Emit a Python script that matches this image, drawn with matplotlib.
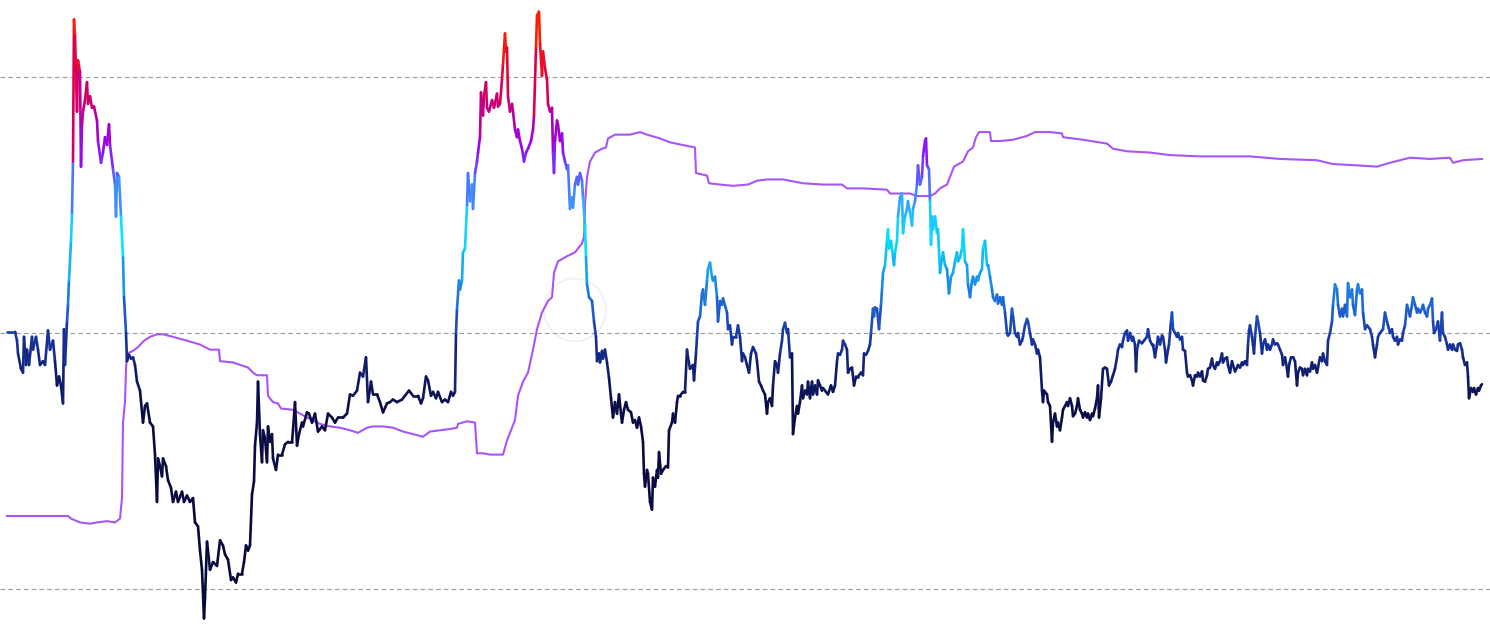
import matplotlib
matplotlib.use("Agg")
import matplotlib.pyplot as plt
import numpy as np
from matplotlib.collections import LineCollection
from matplotlib.colors import LinearSegmentedColormap, Normalize
from matplotlib.patches import Ellipse

# main oscillator: day index and score
score_days = [
    0, 8, 10, 11, 14, 16, 17, 19, 20, 22, 25, 26, 29, 31, 33, 36, 38, 41, 43, 46, 48, 50, 52, 54, 56, 57, 58, 60,
    61, 62, 64, 65, 66, 67, 68, 70, 71, 73, 74, 75, 76, 78, 80, 81, 83, 85, 87, 90, 91, 94, 96, 98, 100, 102, 103,
    106, 108, 109, 110, 112, 114, 116, 117, 119, 120, 122, 124, 126, 128, 130, 133, 136, 138, 140, 143, 146, 148,
    150, 151, 153, 155, 156, 159, 161, 164, 166, 169, 171, 175, 177, 180, 183, 186, 188, 191, 193, 195, 197, 198,
    200, 203, 206, 210, 213, 216, 218, 221, 224, 226, 229, 231, 235, 237, 239, 241, 243, 245, 247, 248, 250, 251,
    253, 255, 256, 258, 260, 261, 263, 265, 266, 269, 271, 275, 278, 281, 285, 286, 288, 290, 292, 295, 296, 300,
    302, 305, 308, 311, 315, 318, 321, 325, 328, 331, 336, 340, 343, 346, 350, 353, 356, 359, 361, 364, 366, 370,
    373, 376, 380, 383, 386, 390, 395, 398, 402, 406, 411, 414, 416, 419, 421, 424, 426, 429, 431, 435, 438, 441,
    444, 446, 448, 449, 450, 452, 453, 455, 456, 458, 460, 461, 463, 465, 466, 468, 470, 471, 473, 474, 476, 477,
    479, 480, 482, 485, 487, 490, 491, 493, 495, 496, 498, 499, 500, 501, 503, 505, 506, 508, 510, 511, 513, 515,
    517, 519, 521, 524, 526, 527, 529, 530, 532, 533, 535, 536, 538, 540, 541, 543, 545, 546, 547, 548, 550, 551,
    553, 555, 556, 558, 560, 561, 563, 565, 566, 568, 570, 571, 573, 575, 576, 578, 579, 580, 582, 585, 587, 589,
    590, 592, 593, 595, 596, 598, 600, 602, 604, 606, 608, 610, 612, 614, 615, 617, 619, 621, 624, 626, 628, 630,
    632, 634, 636, 637, 638, 640, 641, 643, 645, 646, 648, 650, 651, 652, 654, 656, 659, 661, 662, 665, 666, 668,
    670, 671, 673, 676, 678, 680, 681, 683, 686, 687, 689, 690, 691, 693, 695, 696, 698, 700, 701, 703, 705, 706,
    708, 710, 711, 713, 715, 716, 720, 721, 723, 725, 726, 729, 731, 733, 735, 736, 738, 740, 742, 744, 746, 749,
    750, 752, 754, 756, 758, 760, 761, 763, 765, 766, 768, 770, 771, 773, 775, 776, 778, 780, 781, 783, 785, 786,
    788, 790, 791, 793, 795, 796, 798, 800, 801, 803, 805, 806, 808, 810, 811, 813, 815, 816, 819, 821, 824, 826,
    828, 830, 831, 833, 835, 836, 838, 840, 841, 843, 845, 847, 849, 851, 854, 856, 857, 859, 861, 863, 864, 866,
    867, 868, 870, 872, 874, 875, 876, 878, 880, 881, 882, 884, 886, 887, 888, 890, 891, 893, 895, 896, 898, 900,
    901, 903, 905, 906, 908, 910, 911, 913, 915, 916, 918, 919, 920, 922, 923, 924, 925, 926, 928, 930, 931, 933,
    935, 936, 938, 940, 942, 944, 946, 948, 950, 951, 953, 955, 956, 958, 960, 961, 963, 965, 966, 968, 970, 971,
    973, 975, 976, 978, 980, 981, 983, 985, 986, 988, 990, 991, 993, 995, 996, 998, 1000, 1001, 1003, 1005, 1006,
    1008, 1010, 1011, 1013, 1015, 1016, 1018, 1020, 1021, 1023, 1025, 1026, 1028, 1030, 1031, 1033, 1035, 1036,
    1037, 1040, 1041, 1043, 1045, 1046, 1048, 1050, 1051, 1053, 1055, 1056, 1058, 1060, 1061, 1063, 1065, 1066,
    1068, 1070, 1071, 1073, 1075, 1076, 1078, 1080, 1081, 1083, 1085, 1086, 1088, 1090, 1091, 1092, 1094, 1096,
    1098, 1100, 1102, 1104, 1106, 1108, 1110, 1111, 1113, 1115, 1116, 1118, 1120, 1121, 1123, 1125, 1126, 1128,
    1129, 1130, 1132, 1135, 1137, 1140, 1141, 1143, 1145, 1146, 1148, 1150, 1151, 1153, 1155, 1156, 1158, 1159,
    1161, 1162, 1164, 1165, 1166, 1168, 1170, 1171, 1173, 1175, 1176, 1178, 1180, 1181, 1183, 1185, 1186, 1188,
    1190, 1191, 1193, 1195, 1196, 1198, 1200, 1201, 1203, 1205, 1206, 1208, 1210, 1211, 1213, 1215, 1216, 1218,
    1220, 1221, 1223, 1225, 1226, 1228, 1230, 1231, 1233, 1235, 1236, 1238, 1240, 1241, 1242, 1243, 1245, 1246,
    1247, 1248, 1250, 1251, 1253, 1255, 1256, 1258, 1260, 1261, 1263, 1265, 1266, 1268, 1270, 1271, 1273, 1275,
    1276, 1278, 1280, 1281, 1282, 1284, 1286, 1288, 1290, 1291, 1293, 1295, 1296, 1298, 1300, 1301, 1303, 1305,
    1306, 1308, 1310, 1311, 1313, 1315, 1316, 1318, 1320, 1321, 1323, 1325, 1326, 1328, 1330, 1331, 1333, 1335,
    1336, 1338, 1340, 1341, 1343, 1345, 1346, 1348, 1350, 1351, 1353, 1355, 1356, 1358, 1360, 1363, 1365, 1366,
    1368, 1370, 1371, 1373, 1376, 1378, 1380, 1381, 1383, 1385, 1386, 1388, 1390, 1391, 1393, 1395, 1396, 1398,
    1400, 1401, 1403, 1405, 1406, 1408, 1410, 1411, 1413, 1415, 1416, 1418, 1420, 1421, 1423, 1425, 1426, 1427,
    1429, 1431, 1433, 1435, 1436, 1438, 1440, 1441, 1443, 1445, 1446, 1448, 1450, 1451, 1453, 1455, 1456, 1458,
    1460, 1461, 1462, 1464, 1466, 1467, 1469, 1471, 1472, 1474, 1475,
]
score_vals = [
    0.01, 0.01, -0.06, -0.16, -0.28, -0.31, -0.03, -0.25, -0.13, -0.25, -0.03, -0.13, -0.03, -0.13, -0.25, -0.22,
    -0.25, 0.02, -0.13, -0.06, -0.22, -0.41, -0.34, -0.41, -0.55, 0.03, -0.25, 0.09, 0.22, 0.41, 0.72, 0.94, 1.34,
    2.45, 2.32, 1.73, 2.13, 2.04, 1.30, 1.63, 1.73, 1.82, 1.96, 1.79, 1.85, 1.76, 1.77, 1.66, 1.50, 1.33, 1.41,
    1.53, 1.47, 1.63, 1.47, 1.28, 1.16, 0.91, 1.25, 1.22, 0.91, 0.59, 0.28, 0.00, -0.22, -0.17, -0.20, -0.19,
    -0.25, -0.38, -0.45, -0.70, -0.57, -0.55, -0.70, -0.73, -0.95, -1.32, -0.98, -1.04, -1.12, -0.98, -1.04,
    -1.15, -1.21, -1.32, -1.24, -1.32, -1.24, -1.32, -1.27, -1.32, -1.29, -1.48, -1.51, -1.70, -1.85, -2.23,
    -2.07, -1.63, -1.85, -1.79, -1.82, -1.62, -1.66, -1.73, -1.77, -1.93, -1.91, -1.95, -1.88, -1.88, -1.79,
    -1.66, -1.70, -1.66, -1.26, -1.16, -0.88, -0.70, -0.38, -0.79, -1.01, -0.76, -0.82, -1.01, -0.73, -0.85,
    -0.79, -0.98, -1.07, -0.95, -0.95, -0.87, -0.85, -0.85, -0.76, -0.54, -0.88, -0.79, -0.70, -0.73, -0.62,
    -0.63, -0.70, -0.63, -0.77, -0.73, -0.76, -0.63, -0.66, -0.70, -0.66, -0.66, -0.63, -0.48, -0.49, -0.45,
    -0.31, -0.34, -0.19, -0.54, -0.38, -0.48, -0.48, -0.54, -0.62, -0.55, -0.54, -0.52, -0.54, -0.52, -0.49,
    -0.45, -0.49, -0.49, -0.55, -0.51, -0.34, -0.37, -0.49, -0.46, -0.51, -0.46, -0.54, -0.52, -0.54, -0.46,
    -0.49, -0.46, 0.00, 0.19, 0.41, 0.34, 0.41, 0.63, 0.66, 1.00, 1.25, 1.03, 1.16, 0.97, 1.25, 1.34, 1.41,
    1.53, 1.88, 1.70, 1.85, 1.96, 1.76, 1.73, 1.82, 1.76, 1.87, 1.77, 1.79, 1.98, 2.10, 2.34, 2.20, 2.23, 1.85,
    1.73, 1.79, 1.73, 1.59, 1.53, 1.59, 1.50, 1.44, 1.34, 1.41, 1.44, 1.50, 1.59, 1.70, 2.23, 2.48, 2.51, 2.26,
    2.01, 2.20, 2.07, 1.98, 1.79, 1.73, 1.76, 1.41, 1.25, 1.50, 1.66, 1.63, 1.50, 1.56, 1.41, 1.34, 1.28, 1.31,
    0.97, 1.06, 0.98, 1.16, 1.22, 1.16, 1.25, 1.19, 1.06, 0.84, 0.59, 0.38, 0.28, 0.25, 0.09, -0.03, -0.22,
    -0.16, -0.23, -0.14, -0.20, -0.13, -0.23, -0.35, -0.51, -0.66, -0.54, -0.63, -0.48, -0.63, -0.70, -0.60,
    -0.54, -0.60, -0.62, -0.70, -0.68, -0.74, -0.66, -0.73, -0.85, -1.10, -1.20, -1.07, -1.10, -1.32, -1.38,
    -1.13, -1.20, -1.07, -1.13, -0.93, -1.10, -1.07, -1.04, -1.05, -0.76, -0.70, -0.63, -0.70, -0.54, -0.49,
    -0.49, -0.46, -0.46, -0.13, -0.19, -0.28, -0.25, -0.37, -0.16, -0.03, 0.09, 0.13, 0.31, 0.34, 0.22, 0.41,
    0.50, 0.55, 0.44, 0.41, 0.44, 0.28, 0.09, 0.25, 0.22, 0.27, 0.16, 0.03, 0.06, -0.09, -0.03, -0.03, 0.06,
    -0.03, -0.22, -0.16, -0.19, -0.25, -0.31, -0.16, -0.11, -0.16, -0.22, -0.38, -0.41, -0.45, -0.48, -0.63,
    -0.54, -0.51, -0.57, -0.41, -0.22, -0.25, -0.31, -0.16, -0.06, 0.03, 0.08, 0.00, 0.03, -0.19, -0.16, -0.79,
    -0.66, -0.57, -0.63, -0.54, -0.41, -0.51, -0.45, -0.48, -0.38, -0.51, -0.38, -0.48, -0.41, -0.48, -0.37,
    -0.41, -0.45, -0.43, -0.46, -0.48, -0.41, -0.46, -0.41, -0.22, -0.16, -0.17, -0.13, -0.06, -0.09, -0.13,
    -0.31, -0.28, -0.27, -0.41, -0.34, -0.34, -0.31, -0.33, -0.16, -0.17, -0.14, -0.09, 0.00, 0.19, 0.13, 0.20,
    0.19, 0.03, 0.22, 0.34, 0.47, 0.53, 0.72, 0.81, 0.66, 0.72, 0.59, 0.53, 0.63, 0.72, 0.91, 1.06, 1.09, 0.78,
    0.91, 0.97, 1.03, 0.94, 0.84, 0.97, 1.03, 1.16, 1.31, 1.16, 1.22, 1.38, 1.50, 1.52, 1.31, 1.28, 1.03, 0.69,
    0.91, 0.81, 0.91, 0.78, 0.81, 0.47, 0.59, 0.63, 0.53, 0.50, 0.31, 0.44, 0.47, 0.56, 0.63, 0.56, 0.59, 0.66,
    0.81, 0.56, 0.53, 0.38, 0.28, 0.41, 0.44, 0.38, 0.44, 0.41, 0.47, 0.50, 0.66, 0.72, 0.53, 0.53, 0.44, 0.34,
    0.28, 0.25, 0.30, 0.23, 0.28, 0.22, 0.28, 0.16, 0.00, -0.02, 0.00, 0.19, 0.13, 0.00, -0.03, 0.00, -0.09,
    -0.06, -0.03, 0.06, 0.11, 0.09, 0.00, -0.09, -0.05, -0.09, -0.16, -0.13, -0.19, -0.45, -0.54, -0.45, -0.48,
    -0.54, -0.57, -0.85, -0.70, -0.63, -0.73, -0.70, -0.76, -0.66, -0.60, -0.57, -0.54, -0.57, -0.51, -0.57,
    -0.65, -0.63, -0.57, -0.51, -0.60, -0.63, -0.66, -0.62, -0.66, -0.63, -0.68, -0.63, -0.65, -0.59, -0.51,
    -0.41, -0.66, -0.51, -0.28, -0.27, -0.28, -0.41, -0.38, -0.33, -0.28, -0.19, -0.13, -0.09, -0.11, -0.06,
    0.00, 0.02, -0.06, 0.00, -0.06, -0.03, -0.09, -0.30, -0.13, -0.06, -0.08, -0.06, -0.03, 0.03, -0.06, -0.09,
    -0.09, -0.19, -0.09, -0.03, -0.09, -0.02, -0.03, -0.13, -0.23, -0.13, -0.09, 0.09, 0.16, 0.03, 0.00, -0.03,
    0.00, -0.05, -0.03, -0.13, -0.14, -0.31, -0.34, -0.33, -0.37, -0.41, -0.33, -0.34, -0.31, -0.34, -0.30,
    -0.37, -0.38, -0.33, -0.28, -0.27, -0.20, -0.25, -0.28, -0.23, -0.25, -0.22, -0.16, -0.23, -0.20, -0.19,
    -0.25, -0.31, -0.22, -0.25, -0.30, -0.27, -0.25, -0.27, -0.23, -0.25, -0.22, -0.25, -0.09, 0.02, 0.06,
    -0.03, -0.09, -0.16, -0.03, 0.13, 0.09, 0.00, -0.16, -0.09, -0.05, -0.13, -0.09, -0.13, -0.09, -0.05, -0.09,
    -0.08, -0.09, -0.13, -0.17, -0.25, -0.19, -0.28, -0.34, -0.25, -0.19, -0.19, -0.22, -0.41, -0.31, -0.27,
    -0.28, -0.33, -0.28, -0.33, -0.28, -0.30, -0.23, -0.28, -0.25, -0.31, -0.27, -0.19, -0.22, -0.16, -0.22,
    -0.25, -0.06, 0.00, 0.09, 0.22, 0.38, 0.34, 0.22, 0.13, 0.19, 0.13, 0.22, 0.13, 0.39, 0.28, 0.34, 0.22,
    0.14, 0.34, 0.38, 0.31, 0.34, 0.16, 0.03, 0.06, 0.03, -0.03, -0.09, -0.19, -0.09, -0.03, 0.00, 0.03, 0.16,
    0.09, 0.06, 0.00, 0.03, -0.03, -0.06, -0.03, -0.09, -0.05, -0.06, 0.00, 0.06, 0.22, 0.19, 0.13, 0.22, 0.28,
    0.22, 0.16, 0.19, 0.16, 0.19, 0.22, 0.16, 0.13, 0.19, 0.22, 0.27, 0.09, 0.00, 0.03, 0.09, -0.06, 0.16, 0.00,
    -0.03, -0.09, -0.13, -0.09, -0.13, -0.09, -0.13, -0.14, -0.09, -0.08, -0.13, -0.19, -0.25, -0.23, -0.34,
    -0.51, -0.43, -0.46, -0.43, -0.48, -0.43, -0.45, -0.41, -0.40,
]

# slower purple reference line
band_days = [
    0, 61, 64, 73, 83, 90, 100, 108, 113, 115, 116, 118, 119, 120, 126, 131, 137, 143, 150, 156, 166, 180, 193,
    203, 212, 213, 226, 241, 246, 250, 260, 261, 266, 271, 274, 286, 293, 305, 313, 323, 333, 343, 351, 360, 366,
    376, 386, 396, 406, 416, 423, 433, 443, 450, 451, 460, 468, 470, 476, 483, 493, 496, 500, 505, 508, 511, 516,
    521, 526, 530, 535, 541, 545, 547, 551, 560, 568, 575, 577, 578, 580, 583, 588, 595, 599, 601, 608, 623, 633,
    640, 653, 663, 675, 688, 689, 700, 702, 713, 726, 741, 750, 760, 776, 796, 816, 835, 840, 856, 880, 883, 903,
    910, 923, 928, 933, 940, 943, 947, 956, 961, 966, 969, 972, 983, 984, 993, 1006, 1020, 1028, 1043, 1055, 1056,
    1076, 1100, 1106, 1120, 1143, 1163, 1193, 1226, 1243, 1273, 1310, 1326, 1350, 1370, 1383, 1403, 1423, 1443,
    1446, 1456, 1475,
]
band_vals = [
    -1.43, -1.43, -1.45, -1.48, -1.49, -1.48, -1.47, -1.48, -1.45, -1.29, -0.70, -0.54, -0.28, -0.16, -0.14,
    -0.11, -0.06, -0.03, -0.01, -0.01, -0.03, -0.06, -0.09, -0.13, -0.13, -0.22, -0.23, -0.27, -0.31, -0.33,
    -0.33, -0.49, -0.54, -0.55, -0.59, -0.60, -0.63, -0.68, -0.71, -0.73, -0.74, -0.76, -0.78, -0.74, -0.73,
    -0.73, -0.74, -0.77, -0.79, -0.81, -0.77, -0.76, -0.75, -0.74, -0.71, -0.69, -0.70, -0.94, -0.94, -0.95,
    -0.95, -0.95, -0.84, -0.74, -0.68, -0.49, -0.38, -0.31, -0.13, 0.03, 0.16, 0.25, 0.28, 0.47, 0.56, 0.60,
    0.63, 0.70, 0.75, 1.00, 1.22, 1.34, 1.41, 1.44, 1.45, 1.52, 1.55, 1.55, 1.57, 1.55, 1.52, 1.49, 1.47, 1.45,
    1.25, 1.23, 1.17, 1.16, 1.15, 1.16, 1.19, 1.20, 1.20, 1.17, 1.16, 1.16, 1.13, 1.13, 1.12, 1.09, 1.09, 1.07,
    1.07, 1.09, 1.13, 1.16, 1.22, 1.30, 1.34, 1.42, 1.45, 1.53, 1.57, 1.57, 1.50, 1.50, 1.51, 1.54, 1.57, 1.57,
    1.56, 1.53, 1.51, 1.48, 1.44, 1.42, 1.41, 1.39, 1.38, 1.38, 1.38, 1.36, 1.35, 1.32, 1.31, 1.30, 1.33, 1.37,
    1.36, 1.37, 1.33, 1.35, 1.36,
]

levels = [-2.0, 0.0, 2.0]

# score -> colour: navy below zero, blue/cyan, then purple and red at the top
cmap = LinearSegmentedColormap.from_list(
    "heat",
    [
        (0.00, "#07073a"),
        (0.36, "#0a0c45"),
        (0.42, "#101c6c"),
        (0.48, "#1a3aa8"),
        (0.52, "#1d62d0"),
        (0.56, "#1a8ee6"),
        (0.60, "#10c0f0"),
        (0.63, "#00e8ff"),
        (0.67, "#2ab4ff"),
        (0.71, "#4a78ff"),
        (0.75, "#7a30ff"),
        (0.78, "#9a00ee"),
        (0.83, "#c0008c"),
        (0.88, "#e20040"),
        (0.94, "#ff1e00"),
        (1.00, "#ff2000"),
    ],
)
norm = Normalize(vmin=-2.4, vmax=2.6)

fig = plt.figure(figsize=(14.9, 6.33), dpi=100)
ax = fig.add_axes([0, 0, 1, 1])
ax.axis("off")
ax.set_xlim(-7, 1483)
ax.set_ylim(-2.344, 2.602)

for lvl in levels:
    ax.axhline(lvl, color="#9a9a9a", lw=0.8, ls=(0, (4.2, 2.8)), zorder=1)

# faint logo watermark
ax.add_patch(Ellipse((568, 0.18), 62, 0.49, fill=False, ec="#f0f0f4", lw=1.2, zorder=0))

ax.plot(band_days, band_vals, color="#a855f7", lw=1.5, zorder=2)

x = np.array(score_days, dtype=float)
y = np.array(score_vals, dtype=float)
pts = np.column_stack([x, y])
segs = np.stack([pts[:-1], pts[1:]], axis=1)
lc = LineCollection(segs, cmap=cmap, norm=norm, linewidths=1.9, capstyle="round", joinstyle="round", zorder=3)
lc.set_array((y[:-1] + y[1:]) / 2)
ax.add_collection(lc)

fig.savefig("out.png", dpi=100, facecolor="white")
